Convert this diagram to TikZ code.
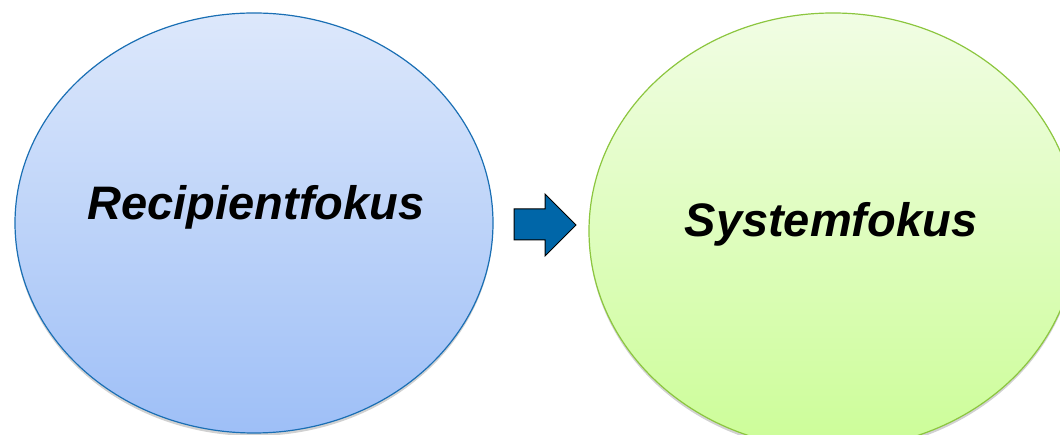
\documentclass[tikz,border=0pt]{standalone}
\usepackage{fontspec}
\setmainfont{Liberation Sans}
\usetikzlibrary{shapes.geometric}
\definecolor{blueTop}{HTML}{DDE8FB}
\definecolor{blueBot}{HTML}{9EBFF7}
\definecolor{blueLine}{HTML}{1A6FB4}
\definecolor{greenTop}{HTML}{F1FDE4}
\definecolor{greenBot}{HTML}{CCFD98}
\definecolor{greenLine}{HTML}{8CC63F}
\definecolor{arrowFill}{HTML}{0066A8}
\tikzset{
  bubble/.style={ellipse, inner sep=0pt, line width=1.2pt},
  shadowed/.style={ellipse, inner sep=0pt, fill=black, opacity=0.18, draw=none},
  label/.style={font=\fontsize{47}{56}\selectfont\bfseries\itshape, text=black},
  blockarrow/.style={draw=black, line width=1pt, fill=arrowFill, line join=miter}
}
\begin{document}
\begin{tikzpicture}[x=1pt,y=1pt]
\useasboundingbox (0,0) rectangle (1060,435);
\begin{scope}
\clip (0,0) rectangle (1060,435);
% shadows
\node[shadowed, minimum width=478pt, minimum height=420pt] (ls) at (254,209) {};
\node[shadowed, minimum width=488pt, minimum height=436pt] (rs) at (833,201) {};
% ellipses
\node[bubble, draw=blueLine, top color=blueTop, bottom color=blueBot,
      minimum width=478pt, minimum height=420pt] (left) at (254,212) {};
\node[bubble, draw=greenLine, top color=greenTop, bottom color=greenBot,
      minimum width=488pt, minimum height=436pt] (right) at (833,204) {};
\end{scope}
% labels
\node[label, anchor=base] (lt) at (256,215) {Recipientfokus};
\node[label, anchor=base] (rt) at (831,198) {Systemfokus};
% block arrow
\coordinate (a1) at (514,226);
\coordinate (a2) at (545,226);
\coordinate (a3) at (545,241);
\coordinate (a4) at (576,210);
\coordinate (a5) at (545,179);
\coordinate (a6) at (545,195);
\coordinate (a7) at (514,195);
\draw[blockarrow] (a1) -- (a2) -- (a3) -- (a4) -- (a5) -- (a6) -- (a7) -- cycle;
\end{tikzpicture}
\end{document}
